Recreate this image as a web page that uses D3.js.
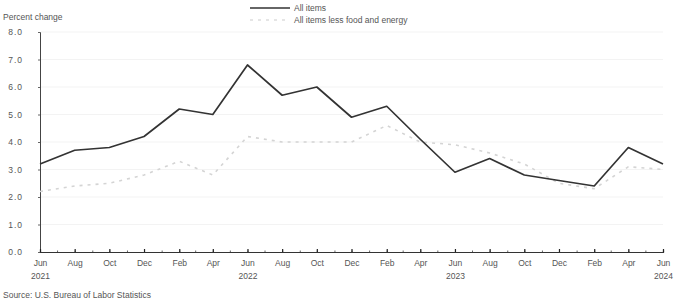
<!DOCTYPE html>
<html>
<head>
<meta charset="utf-8">
<script src="https://cdn.jsdelivr.net/npm/d3@7"></script>
<style>
  body { margin: 0; background: #fff; }
  svg { display: block; font-family: "Liberation Sans", "DejaVu Sans", sans-serif; }
</style>
</head>
<body>
<svg width="676" height="302"></svg>
<script>
// bi-monthly points, Jun 2021 .. Jun 2024
const months = [
  "2021-06", "2021-08", "2021-10", "2021-12", "2022-02", "2022-04",
  "2022-06", "2022-08", "2022-10", "2022-12", "2023-02", "2023-04",
  "2023-06", "2023-08", "2023-10", "2023-12", "2024-02", "2024-04", "2024-06",
];
const allItems = [3.2, 3.7, 3.8, 4.2, 5.2, 5.0, 6.8, 5.7, 6.0, 4.9, 5.3, 4.1, 2.9, 3.4, 2.8, 2.6, 2.4, 3.8, 3.2];
const coreItems = [2.2, 2.4, 2.5, 2.8, 3.3, 2.8, 4.2, 4.0, 4.0, 4.0, 4.6, 4.0, 3.9, 3.6, 3.2, 2.5, 2.3, 3.1, 3.0];
const yTicks = [0, 1, 2, 3, 4, 5, 6, 7, 8];

const parse = d3.timeParse("%Y-%m");
const dates = months.map(parse);

const svg = d3.select("svg");
const x = d3.scaleTime().domain(d3.extent(dates)).range([40, 663]);
const y = d3.scaleLinear().domain([0, 8]).range([252, 32]);

// faint grid
svg.append("g")
  .selectAll("line")
  .data(yTicks.slice(1))
  .join("line")
  .attr("x1", 41).attr("x2", 663)
  .attr("y1", d => y(d)).attr("y2", d => y(d))
  .attr("stroke", "#f3f3f3");

// y axis
const yAxis = svg.append("g")
  .attr("transform", "translate(40,0)")
  .call(d3.axisLeft(y).tickValues(yTicks).tickSize(2).tickFormat(d3.format(".1f")));
yAxis.select(".domain").attr("stroke", "#444");
yAxis.selectAll(".tick line").attr("stroke", "#666");
yAxis.selectAll("text").attr("fill", "#555").attr("font-size", 8.5).attr("x", -17).attr("text-anchor", "end")
  .attr("letter-spacing", 1);

// x axis: minor ticks every month
const monthly = d3.timeMonth.range(dates[0], d3.timeMonth.offset(dates[dates.length - 1], 1));
svg.append("g")
  .attr("transform", "translate(0,252)")
  .call(d3.axisBottom(x).tickValues(monthly).tickSize(-1.5).tickFormat(""))
  .call(g => g.select(".domain").attr("stroke", "#333").attr("stroke-width", 1.2))
  .call(g => g.selectAll(".tick line").attr("stroke", "#666"));

const xAxis = svg.append("g")
  .attr("transform", "translate(0,252)")
  .call(d3.axisBottom(x).tickValues(dates).tickSize(-3).tickPadding(8).tickFormat(d3.timeFormat("%b")));
xAxis.select(".domain").remove();
xAxis.selectAll(".tick line").attr("stroke", "#222").attr("stroke-width", 1.2);
xAxis.selectAll("text").attr("fill", "#555").attr("font-size", 8.5);
xAxis.selectAll(".tick")
  .filter(d => d.getMonth() === 5)
  .append("text")
  .attr("y", 27)
  .attr("fill", "#555")
  .attr("font-size", 8.5)
  .attr("text-anchor", "middle")
  .text(d => d.getFullYear());

// lines
const line = vals => d3.line().x((d, i) => x(dates[i])).y(d => y(d))(vals);
svg.append("path")
  .attr("d", line(coreItems))
  .attr("fill", "none")
  .attr("stroke", "#d4d4d4")
  .attr("stroke-width", 1.6)
  .attr("stroke-dasharray", "3,5");
svg.append("path")
  .attr("d", line(allItems))
  .attr("fill", "none")
  .attr("stroke", "#333")
  .attr("stroke-width", 1.7)
  .attr("stroke-linejoin", "round");

// titles and legend
svg.append("text").attr("x", 3).attr("y", 20).attr("font-size", 8.5).attr("fill", "#555")
  .text("Percent change");
svg.append("line").attr("x1", 250).attr("x2", 290).attr("y1", 8).attr("y2", 8)
  .attr("stroke", "#333").attr("stroke-width", 1.5);
svg.append("text").attr("x", 294).attr("y", 11).attr("font-size", 8.5).attr("fill", "#555").text("All items");
svg.append("line").attr("x1", 250).attr("x2", 290).attr("y1", 20).attr("y2", 20)
  .attr("stroke", "#ddd").attr("stroke-width", 1.5).attr("stroke-dasharray", "3,5");
svg.append("text").attr("x", 294).attr("y", 23).attr("font-size", 8.5).attr("fill", "#555")
  .text("All items less food and energy");
svg.append("text").attr("x", 3).attr("y", 298).attr("font-size", 8.5).attr("fill", "#555")
  .text("Source: U.S. Bureau of Labor Statistics");
</script>
</body>
</html>
